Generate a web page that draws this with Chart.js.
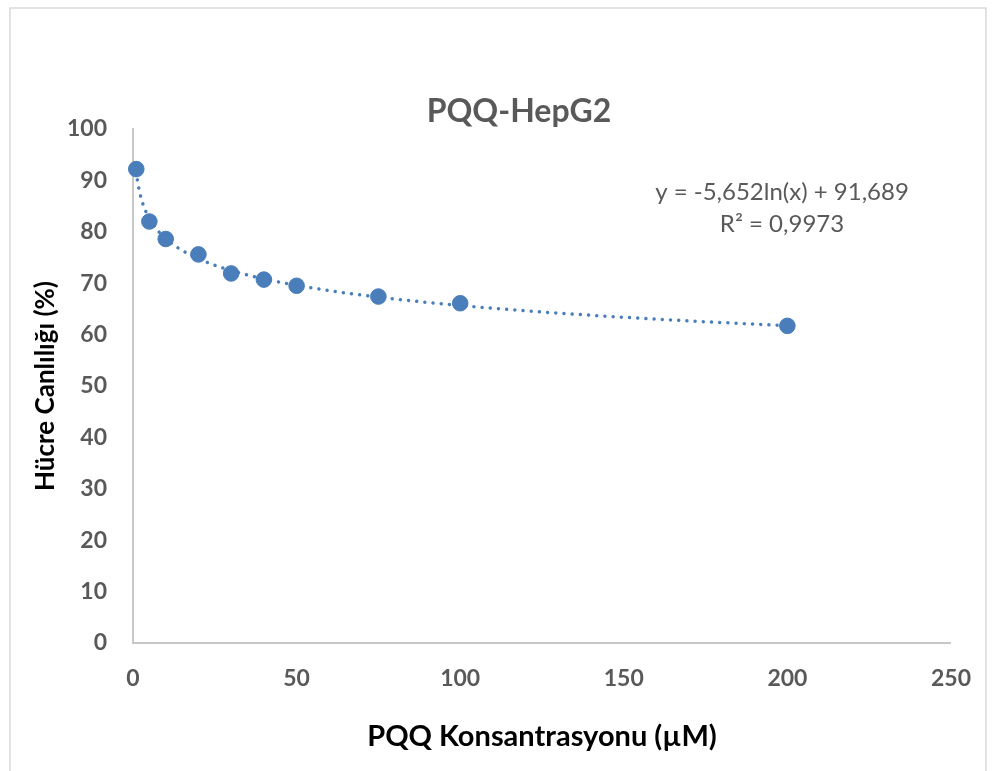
<!DOCTYPE html>
<html>
<head>
<meta charset="utf-8">
<script src="https://cdn.jsdelivr.net/npm/chart.js@4/dist/chart.umd.min.js"></script>
<style>
  html, body { margin: 0; padding: 0; background: #ffffff; }
  #wrap { width: 993px; height: 771px; position: relative; }
</style>
</head>
<body>
<div id="wrap"><canvas id="c" width="993" height="771"></canvas></div>
<script>
// ---- data ----
const concentrations = [1, 5, 10, 20, 30, 40, 50, 75, 100, 200];
const viability = [92.2, 82.0, 78.6, 75.6, 71.9, 70.7, 69.5, 67.4, 66.1, 61.7];
const xTicks = [0, 50, 100, 150, 200, 250];
const yTicks = [0, 10, 20, 30, 40, 50, 60, 70, 80, 90, 100];
const chartTitle = 'PQQ-HepG2';
const xTitle = 'PQQ Konsantrasyonu (µM)';
const yTitle = 'Hücre Canlılığı (%)';
const trendSlope = -5.652;
const trendIntercept = 91.689;
const equationLines = ['y = -5,652ln(x) + 91,689', 'R² = 0,9973'];

// logarithmic trendline drawn from the coefficients printed on the chart
const trendX = [];
for (let x = concentrations[0]; x <= concentrations[concentrations.length - 1]; x += (x < 10 ? 0.25 : 1)) trendX.push(x);
const trendPoints = trendX.map(x => ({ x: x, y: trendSlope * Math.log(x) + trendIntercept }));
const scatterPoints = concentrations.map((x, i) => ({ x: x, y: viability[i] }));

const FONT = 'Lato, "Open Sans", "DejaVu Sans", sans-serif';
const BLUE = '#4a7ebb';
const GREY = '#595959';

const decor = {
  id: 'decor',
  beforeDraw(chart) {
    const ctx = chart.ctx;
    ctx.save();
    ctx.fillStyle = '#ffffff';
    ctx.fillRect(0, 0, chart.width, chart.height);
    ctx.strokeStyle = '#d9d9d9';
    ctx.lineWidth = 1.5;
    ctx.strokeRect(10, 8, 976, 800);
    ctx.restore();
  },
  afterDraw(chart) {
    const ctx = chart.ctx;
    ctx.save();
    ctx.fillStyle = GREY;
    ctx.textAlign = 'center';
    ctx.textBaseline = 'middle';
    ctx.font = 'bold 32px ' + FONT;
    ctx.fillText(chartTitle, 519, 112);
    ctx.font = '24px ' + FONT;
    ctx.fillText(equationLines[0], 782, 192);
    ctx.fillText(equationLines[1], 782, 224);
    ctx.restore();
  }
};

new Chart(document.getElementById('c'), {
  type: 'scatter',
  data: {
    datasets: [
      {
        label: 'Hücre Canlılığı',
        data: scatterPoints,
        backgroundColor: BLUE,
        borderColor: BLUE,
        pointRadius: 7.8,
        pointHoverRadius: 7.8,
        showLine: false,
        clip: false
      },
      {
        label: 'Log. trend',
        data: trendPoints,
        showLine: true,
        borderColor: BLUE,
        borderWidth: 3.5,
        borderCapStyle: 'round',
        borderDash: [0.01, 8.2],
        pointRadius: 0,
        fill: false,
        tension: 0,
        clip: false
      }
    ]
  },
  plugins: [decor],
  options: {
    responsive: false,
    animation: false,
    events: [],
    layout: { padding: { top: 129, right: 42, bottom: 0, left: 0 } },
    plugins: {
      legend: { display: false },
      tooltip: { enabled: false },
      title: { display: false }
    },
    scales: {
      x: {
        type: 'linear',
        min: 0,
        max: 250,
        afterBuildTicks: s => { s.ticks = xTicks.map(v => ({ value: v })); },
        afterFit: s => { s.height = 128; },
        grid: { display: false, drawTicks: false },
        border: { display: true, color: '#c8c8c8', width: 2 },
        ticks: { color: GREY, font: { family: FONT, size: 23, weight: 'bold' }, padding: 22, maxRotation: 0 },
        title: { display: true, text: xTitle, color: '#000000', font: { family: FONT, size: 29, weight: 'bold' }, padding: { top: 0, bottom: 17 } }
      },
      y: {
        type: 'linear',
        min: 0,
        max: 100,
        afterBuildTicks: s => { s.ticks = yTicks.map(v => ({ value: v })); },
        afterFit: s => { s.width = 133; },
        grid: { display: false, drawTicks: false },
        border: { display: true, color: '#c8c8c8', width: 2 },
        ticks: { color: GREY, font: { family: FONT, size: 23, weight: 'bold' }, padding: 26 },
        title: { display: true, text: yTitle, color: '#000000', font: { family: FONT, size: 26, weight: 'bold' }, padding: { top: 30.5, bottom: 0 } }
      }
    }
  }
});
</script>
</body>
</html>
